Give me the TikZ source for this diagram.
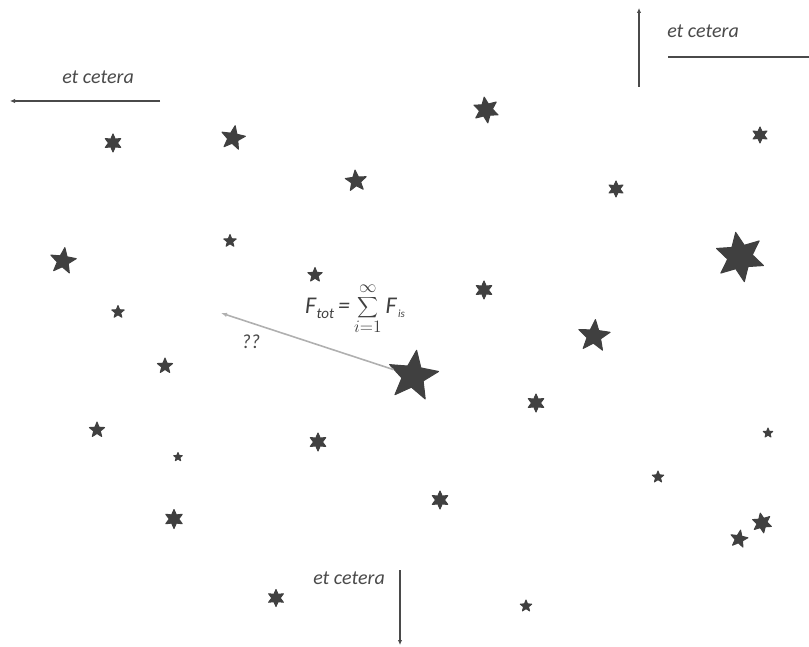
\documentclass[tikz,border=0pt]{standalone}
\usepackage{fontspec}
\setmainfont{Carlito}
\usetikzlibrary{shapes.geometric,arrows.meta}
\definecolor{starc}{HTML}{404040}
\definecolor{txtc}{HTML}{4A4A4A}
\definecolor{arrc}{HTML}{4A4A4A}
\definecolor{lgrey}{HTML}{B0B0B0}
\tikzset{
  st5/.style={star, star points=5, star point ratio=2.3, fill=starc, draw=starc,
    line join=round, line width=1pt, inner sep=0pt, minimum size=#1},
  st6/.style={star, star points=6, star point ratio=2.0, fill=starc, draw=starc,
    line join=round, line width=1pt, inner sep=0pt, minimum size=#1},
  etc/.style={font=\fontsize{20}{22}\selectfont\itshape, text=txtc, inner sep=0pt},
  arr/.style={draw=arrc, line width=1.5pt, -{Latex[length=5pt,width=4.5pt]}},
  plainline/.style={draw=arrc, line width=1.5pt},
}
\begin{document}
\begin{tikzpicture}[x=1pt,y=-1pt]
\useasboundingbox (0,0) rectangle (809,647);
% stars
\node[st6=18pt] (s1) at (113,143) {};
\node[st5=25pt, rotate=-10] (s2) at (233,138) {};
\node[st6=26pt, rotate=8] (s3) at (486,110) {};
\node[st5=22pt, rotate=5] (s4) at (356,181) {};
\node[st6=16pt] (s5) at (760,135) {};
\node[st6=16pt] (s6) at (616,189) {};
\node[st5=13pt] (s7) at (230,241) {};
\node[st5=27pt, rotate=-8] (s8) at (63,261) {};
\node[st6=50pt, rotate=10] (s9) at (740,257) {};
\node[st5=15pt] (s10) at (315,275) {};
\node[st6=18pt] (s11) at (484,290) {};
\node[st5=13pt] (s12) at (118,312) {};
\node[st5=33pt, rotate=-5] (s13) at (594,336) {};
\node[st5=16pt] (s14) at (165,366) {};
\node[st5=52pt, rotate=-8] (s15) at (413,376) {};
\node[st6=18pt] (s16) at (536,403) {};
\node[st5=16pt] (s17) at (97,430) {};
\node[st6=18pt] (s18) at (318,442) {};
\node[st5=10pt] (s19) at (768,433) {};
\node[st5=9pt] (s20) at (178,457) {};
\node[st5=12pt] (s21) at (658,477) {};
\node[st6=18pt] (s22) at (440,500) {};
\node[st6=19pt] (s23) at (174,519) {};
\node[st6=20pt, rotate=10] (s24) at (762,523) {};
\node[st5=18pt, rotate=-10] (s25) at (739,539) {};
\node[st6=17pt] (s26) at (276,598) {};
\node[st5=12pt] (s27) at (526,606) {};
% et cetera arrows
\coordinate (l1) at (160,101);
\coordinate (l2) at (10,101);
\draw[arr] (l1) -- (l2);
\node[etc] (t1) at (98,77) {et cetera};
\coordinate (u1) at (639,87);
\coordinate (u2) at (639,8);
\draw[arr] (u1) -- (u2);
\coordinate (h1) at (668,57);
\coordinate (h2) at (809,57);
\draw[plainline] (h1) -- (h2);
\node[etc] (t2) at (703,31) {et cetera};
\coordinate (d1) at (400,570);
\coordinate (d2) at (400,645);
\draw[arr] (d1) -- (d2);
\node[etc] (t3) at (349,578) {et cetera};
% force arrow
\coordinate (q) at (221,313);
\draw[draw=lgrey, line width=1.6pt, -{Latex[length=6pt,width=4.5pt]}] (s15) -- (q);
\node[etc] (qq) at (251,342) {??};
% formula
\node[text=starc, inner sep=0pt] (f) at (355,309) {\fontsize{24}{26}\selectfont\itshape
  F\kern0.5pt\raisebox{-0.35ex}{\fontsize{15}{15}\selectfont tot}\,=\,%
  \raisebox{-0.2ex}{\scalebox{1.45}{$\displaystyle\sum_{\scriptscriptstyle i=1}^{\scriptscriptstyle\infty}$}}\,F\kern1.5pt\raisebox{-0.3ex}{\fontsize{11}{11}\selectfont is}};
\end{tikzpicture}
\end{document}
